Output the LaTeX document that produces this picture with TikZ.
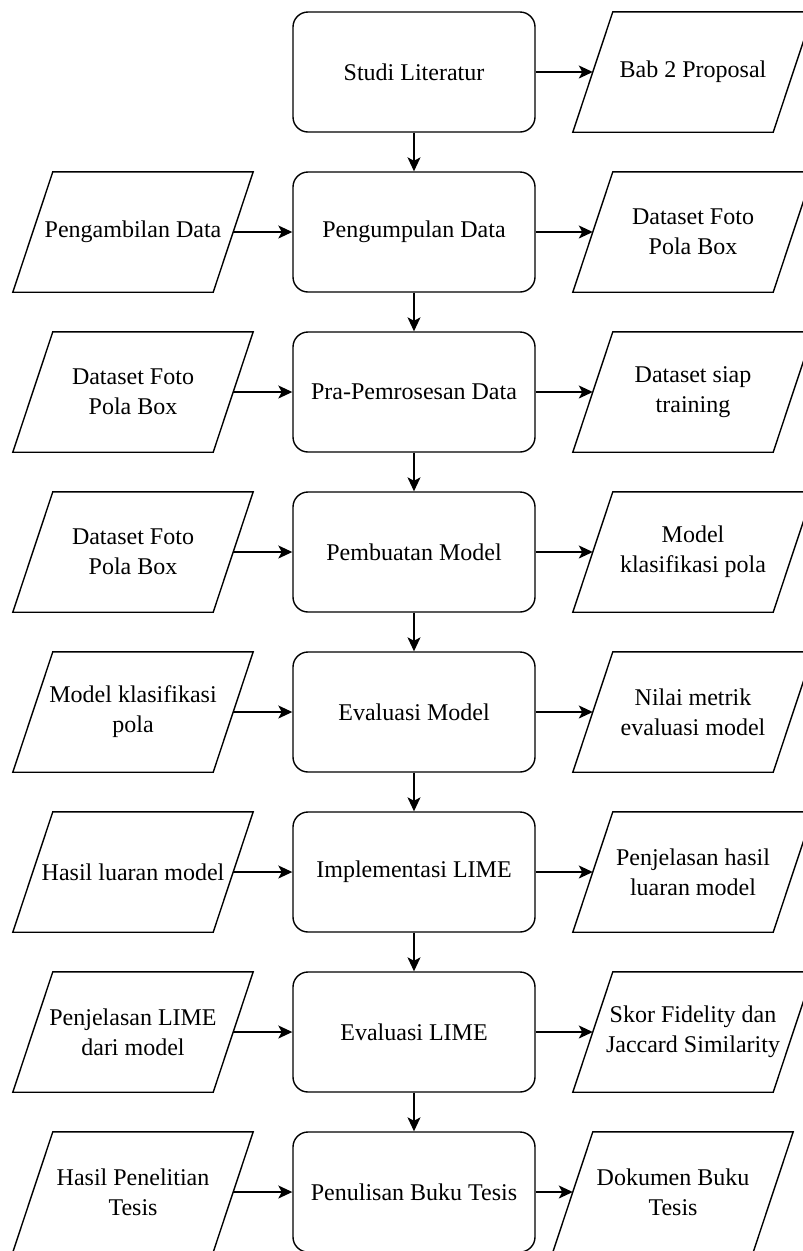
\documentclass[tikz,border=0pt]{standalone}
\usepackage{fontspec}
\setmainfont{Liberation Serif}
\usetikzlibrary{arrows.meta}

\begin{document}
\begin{tikzpicture}[x=1pt,y=-1pt,
  every node/.style={font=\fontsize{24}{30}\selectfont, align=center, inner sep=0pt},
  process/.style={draw, line width=1.4pt, rounded corners=15pt,
    minimum width=242pt, minimum height=120pt},
  iobox/.style={minimum width=200pt, minimum height=120pt},
  flow/.style={line width=1.4pt, -{Stealth[length=14pt,width=13pt,inset=3.5pt]}}]

\useasboundingbox (0,0) rectangle (803,1251);
\clip (0,0) rectangle (803,1251);

% process column
\node[process] (p0) at (414,72)   {Studi Literatur};
\node[process] (p1) at (414,232)  {Pengumpulan Data};
\node[process] (p2) at (414,392)  {Pra-Pemrosesan Data};
\node[process] (p3) at (414,552)  {Pembuatan Model};
\node[process] (p4) at (414,712)  {Evaluasi Model};
\node[process] (p5) at (414,872)  {Implementasi LIME};
\node[process] (p6) at (414,1032) {Evaluasi LIME};
\node[process] (p7) at (414,1192) {Penulisan Buku Tesis};

% inputs (left)
\node[iobox] (i1) at (133,232)  {Pengambilan Data};
\node[iobox] (i2) at (133,392)  {Dataset Foto\\Pola Box};
\node[iobox] (i3) at (133,552)  {Dataset Foto\\Pola Box};
\node[iobox] (i4) at (133,712)  {Model klasifikasi\\pola};
\node[iobox] (i5) at (133,872)  {Hasil luaran model};
\node[iobox] (i6) at (133,1032) {Penjelasan LIME\\dari model};
\node[iobox] (i7) at (133,1192) {Hasil Penelitian\\Tesis};

% outputs (right)
\node[iobox] (o0) at (693,72)   {Bab 2 Proposal};
\node[iobox] (o1) at (693,232)  {Dataset Foto\\Pola Box};
\node[iobox] (o2) at (693,392)  {Dataset siap\\training};
\node[iobox] (o3) at (693,552)  {Model\\klasifikasi pola};
\node[iobox] (o4) at (693,712)  {Nilai metrik\\evaluasi model};
\node[iobox] (o5) at (693,872)  {Penjelasan hasil\\luaran model};
\node[iobox] (o6) at (693,1032) {Skor Fidelity dan\\Jaccard Similarity};
\node[iobox] (o7) at (673,1192) {Dokumen Buku\\Tesis};

% parallelogram outlines
\foreach \n in {i1,i2,i3,i4,i5,i6,i7,o0,o1,o2,o3,o4,o5,o6,o7}{
  \draw[line width=1.4pt, line join=miter]
    ([xshift=20pt]\n.north west) -- ([xshift=20pt]\n.north east)
    -- ([xshift=-20pt]\n.south east) -- ([xshift=-20pt]\n.south west) -- cycle;
}

% vertical flow
\foreach \a/\b in {p0/p1,p1/p2,p2/p3,p3/p4,p4/p5,p5/p6,p6/p7}{
  \draw[flow] (\a.south) -- (\b.north);
}

% inputs into processes
\foreach \k in {1,...,7}{
  \draw[flow] (i\k.east) -- (p\k.west);
}

% processes into outputs
\foreach \k in {0,...,7}{
  \draw[flow] (p\k.east) -- (o\k.west);
}
\end{tikzpicture}
\end{document}
